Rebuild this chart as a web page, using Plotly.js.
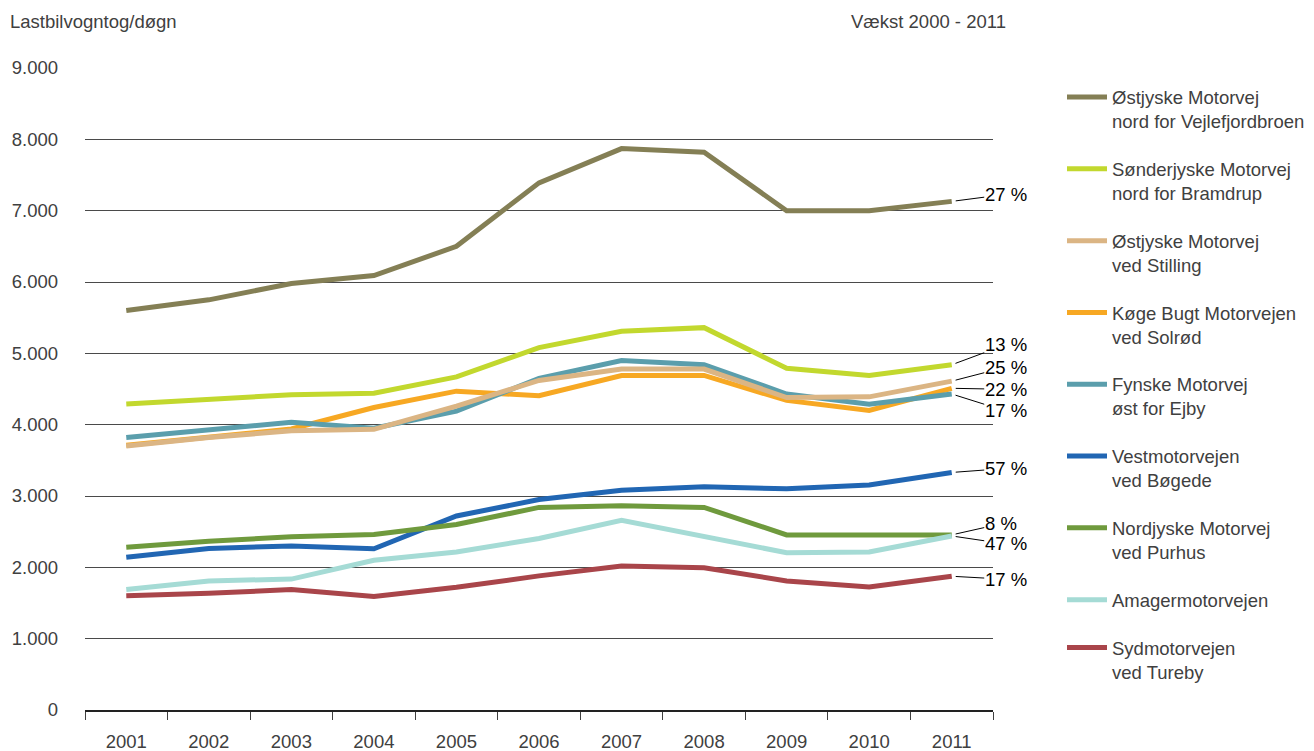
<!DOCTYPE html>
<html>
<head>
<meta charset="utf-8">
<script src="https://cdn.plot.ly/plotly-3.0.1.min.js"></script>
<style>html,body{margin:0;padding:0;background:#fff;}#chart{width:1314px;height:751px;}</style>
</head>
<body>
<div id="chart"></div>
<script>
// ---- data ----
const years = ['2001','2002','2003','2004','2005','2006','2007','2008','2009','2010','2011'];

const names = [
  'Østjyske Motorvej<br>nord for Vejlefjordbroen',
  'Sønderjyske Motorvej<br>nord for Bramdrup',
  'Østjyske Motorvej<br>ved Stilling',
  'Køge Bugt Motorvejen<br>ved Solrød',
  'Fynske Motorvej<br>øst for Ejby',
  'Vestmotorvejen<br>ved Bøgede',
  'Nordjyske Motorvej<br>ved Purhus',
  'Amagermotorvejen',
  'Sydmotorvejen<br>ved Tureby'
];

const oestjyskeVejle = [5600, 5750, 5980, 6090, 6500, 7390, 7870, 7820, 7000, 7000, 7130];
const soenderjyske   = [4290, 4350, 4420, 4440, 4670, 5080, 5310, 5360, 4790, 4690, 4840];
const oestjyskeStill = [3700, 3820, 3915, 3935, 4260, 4620, 4780, 4780, 4380, 4390, 4610];
const koegeBugt      = [3710, 3830, 3940, 4240, 4470, 4405, 4690, 4690, 4340, 4200, 4510];
const fynske         = [3820, 3925, 4035, 3950, 4190, 4650, 4900, 4840, 4430, 4285, 4430];
const vestmotorvej   = [2140, 2265, 2300, 2260, 2720, 2950, 3080, 3130, 3100, 3155, 3330];
const nordjyske      = [2280, 2365, 2430, 2460, 2600, 2840, 2865, 2840, 2455, 2455, 2455];
const amager         = [1690, 1810, 1835, 2100, 2215, 2405, 2660, 2430, 2205, 2215, 2440];
const sydmotorvej    = [1600, 1635, 1690, 1590, 1720, 1880, 2020, 1995, 1810, 1725, 1875];

const growthLabels = ['27 %', '13 %', '25 %', '22 %', '17 %', '57 %', '8 %', '47 %', '17 %'];

const colors = ['#847f55', '#c2d82e', '#dbb584', '#f7a823', '#5b9eac', '#2166b3', '#6f9a3d', '#a5dbd5', '#a9454a'];
// drawing order (later = on top); legend order follows the names array via legendrank
const drawOrder = [0, 1, 3, 4, 2, 5, 6, 7, 8];
const labelDX = [54, 54, 54, 54, 54, 54, 49, 54, 54];
const labelDY = [-7, -20, -14, 1, 17, -4, -11, 8, 3];

const series = [oestjyskeVejle, soenderjyske, oestjyskeStill, koegeBugt, fynske, vestmotorvej, nordjyske, amager, sydmotorvej];

const FONT = '"Liberation Sans", Arial, Helvetica, sans-serif';

const traces = drawOrder.map(i => ({
  type: 'scatter',
  mode: 'lines',
  x: years,
  y: series[i],
  name: names[i],
  legendgroup: 'g' + i,
  legendrank: 1000 + i,
  line: {color: colors[i], width: 5},
  hoverinfo: 'skip'
}));

const lastIdx = years.length - 1;
const annotations = series.map((vals, i) => ({
  x: lastIdx,
  y: vals[lastIdx],
  xref: 'x', yref: 'y',
  text: growthLabels[i],
  showarrow: true,
  arrowhead: 0,
  arrowwidth: 1,
  arrowcolor: '#000',
  standoff: 4,
  ax: labelDX[i],
  ay: labelDY[i],
  borderpad: 0,
  font: {family: FONT, size: 18.5, color: '#000'}
}));

annotations.push({
  xref: 'paper', yref: 'paper', x: -0.0848, y: 1.0717,
  xanchor: 'left', yanchor: 'middle', showarrow: false,
  text: 'Lastbilvogntog/døgn',
  font: {family: FONT, size: 18.5, color: '#404040'}
});
annotations.push({
  xref: 'paper', yref: 'paper', x: 1.0165, y: 1.0717,
  xanchor: 'right', yanchor: 'middle', showarrow: false,
  text: 'Vækst 2000 - 2011',
  font: {family: FONT, size: 18.5, color: '#404040'}
});

const layout = {
  width: 1314, height: 751,
  margin: {l: 85, r: 321, t: 68, b: 41},
  paper_bgcolor: '#fff', plot_bgcolor: '#fff',
  font: {family: FONT, size: 18.5, color: '#404040'},
  separators: ',.',
  showlegend: true,
  legend: {
    xref: 'container', yref: 'container',
    x: 1062 / 1314, xanchor: 'left',
    y: 1 - 78.5 / 751, yanchor: 'top',
    valign: 'top',
    maxheight: 700,
    tracegroupgap: 20.7,
    itemwidth: 40,
    font: {family: FONT, size: 18.5, color: '#404040'},
    bgcolor: 'rgba(0,0,0,0)'
  },
  xaxis: {
    type: 'category',
    range: [-0.5, 10.5],
    tickson: 'boundaries',
    ticks: 'outside', ticklen: 8, tickcolor: '#404040', tickwidth: 1,
    showline: true, linecolor: '#222', linewidth: 1.5,
    showgrid: false, zeroline: false,
    ticklabelstandoff: 14,
    tickfont: {family: FONT, size: 18.5, color: '#404040'}
  },
  yaxis: {
    range: [0, 9000],
    tickvals: [0, 1000, 2000, 3000, 4000, 5000, 6000, 7000, 8000, 9000],
    tickformat: ',d',
    showgrid: true, gridcolor: '#4a4a4a', gridwidth: 1,
    zeroline: false,
    showline: false, ticks: '',
    ticklabelstandoff: 26,
    tickfont: {family: FONT, size: 18.5, color: '#404040'}
  },
  annotations: annotations
};

Plotly.newPlot('chart', traces, layout, {displayModeBar: false, staticPlot: true});
</script>
</body>
</html>
